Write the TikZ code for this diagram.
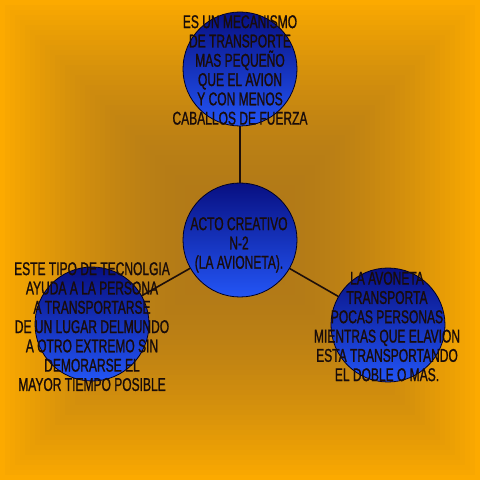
\documentclass[tikz,border=0pt]{standalone}
\usepackage{fontspec}
\setmainfont{Liberation Sans}[FakeStretch=0.65,FakeBold=1]
\definecolor{bubtop}{RGB}{8,16,130}
\definecolor{bubbot}{RGB}{35,85,245}
\definecolor{connc}{RGB}{30,15,10}
\tikzset{
  bubble/.style={circle, draw=black!85!blue, line width=0.8pt, minimum size=114pt, inner sep=0pt, top color=bubtop, bottom color=bubbot},
  bubtext/.style={align=center, inner sep=0pt, font=\fontsize{18.5}{19.3}\selectfont, anchor=north, text={rgb,255:red,25;green,12;blue,10}},
  conn/.style={draw=connc, line width=1.6pt}
}
\begin{document}
\begin{tikzpicture}[x=1pt,y=1pt]
\useasboundingbox (0,0) rectangle (480,480);
\foreach \i in {0,...,47} {
  \pgfmathsetmacro\tt{\i/48}
  \pgfmathsetmacro\ff{1-(1-\tt)^2}
  \pgfmathtruncatemacro\rr{252-77*\ff}
  \pgfmathtruncatemacro\gg{170-50*\ff}
  \pgfmathtruncatemacro\bb{25*\ff}
  \definecolor{bgc}{RGB}{\rr,\gg,\bb}
  \pgfmathsetmacro\ss{240-5*\i}
  \fill[bgc] (240-\ss,240-\ss) rectangle (240+\ss,240+\ss);
}
\node[bubble] (c) at (240,240) {};
\node[bubble] (t) at (240,411) {};
\node[bubble] (l) at (92,156) {};
\node[bubble] (r) at (388,155) {};
\draw[conn] (c) -- (t);
\draw[conn] (c) -- (l);
\draw[conn] (c) -- (r);
\node[bubtext] (tt) at (240,465) {ES UN MECANISMO\\DE TRANSPORTE\\MAS PEQUEÑO\\QUE EL AVION\\Y CON MENOS\\CABALLOS DE FUERZA};
\node[bubtext] (ct) at (239,263) {ACTO CREATIVO\\N-2\\(LA AVIONETA).};
\node[bubtext] (lt) at (92,218) {ESTE TIPO DE TECNOLGIA\\AYUDA A LA PERSONA\\A TRANSPORTARSE\\DE UN LUGAR DELMUNDO\\A OTRO EXTREMO SIN\\DEMORARSE EL\\MAYOR TIEMPO POSIBLE};
\node[bubtext] (rt) at (387,208.5) {LA AVONETA\\TRANSPORTA\\POCAS PERSONAS\\MIENTRAS QUE ELAVION\\ESTA TRANSPORTANDO\\EL DOBLE O MAS.};
\end{tikzpicture}
\end{document}
